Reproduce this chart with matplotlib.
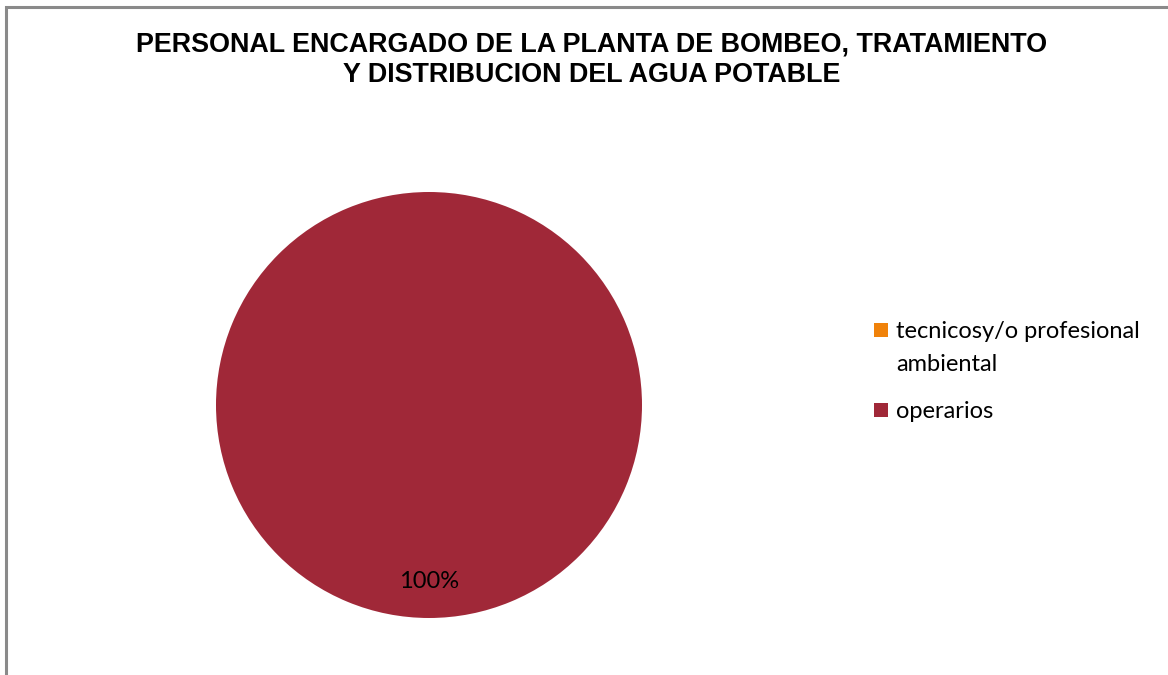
import numpy as np
import matplotlib.pyplot as plt
from matplotlib.patches import Rectangle

# Data
categorias = ['tecnicosy/o profesional\nambiental', 'operarios']
valores = [0, 100]
colores = ['#F0820A', '#A02838']
titulo = 'PERSONAL ENCARGADO DE LA PLANTA DE BOMBEO, TRATAMIENTO\nY DISTRIBUCION DEL AGUA POTABLE'

W, H = 1168, 675
fig = plt.figure(figsize=(W / 100, H / 100), dpi=100)
fig.patch.set_facecolor('white')

# chart area border (cropped on right and bottom)
fig.patches.append(Rectangle((6 / W, -0.1), 1.2, (H - 7) / H + 0.1,
                             transform=fig.transFigure, fill=False,
                             edgecolor='#8a8a8a', linewidth=2.2))

fig.text(592 / W, 1 - 60 / H, titulo, ha='center', va='center',
         fontsize=19.4, fontweight='bold', family='Liberation Sans',
         linespacing=1.2)

# pie: centre (429, 405), radius 213 px
r = 213
ax = fig.add_axes([(429 - r) / W, (H - 405 - r) / H, 2 * r / W, 2 * r / H])


def fmt(p):
    return '%.0f%%' % p if p > 0 else ''


wedges, texts, autotexts = ax.pie(valores, colors=colores, startangle=90,
                                  counterclock=False, autopct=fmt,
                                  pctdistance=0.83, radius=1,
                                  textprops={'fontsize': 17, 'family': 'Lato'})
ax.set_xlim(-1, 1)
ax.set_ylim(-1, 1)
ax.set_aspect('equal')

# legend, drawn entry by entry so the marker sits on the first text line
leg_y = [338, 418]  # baselines in px from top
for cat, col, yb in zip(categorias, colores, leg_y):
    fig.patches.append(Rectangle((874 / W, 1 - (yb - 1) / H), 14 / W, 14 / H,
                                 transform=fig.transFigure,
                                 facecolor=col, edgecolor='none'))
    for i, line in enumerate(cat.split('\n')):
        fig.text(896 / W, 1 - (yb + 33 * i) / H, line, ha='left',
                 va='baseline', fontsize=17, family='Lato')

plt.savefig('out.png', dpi=100)
